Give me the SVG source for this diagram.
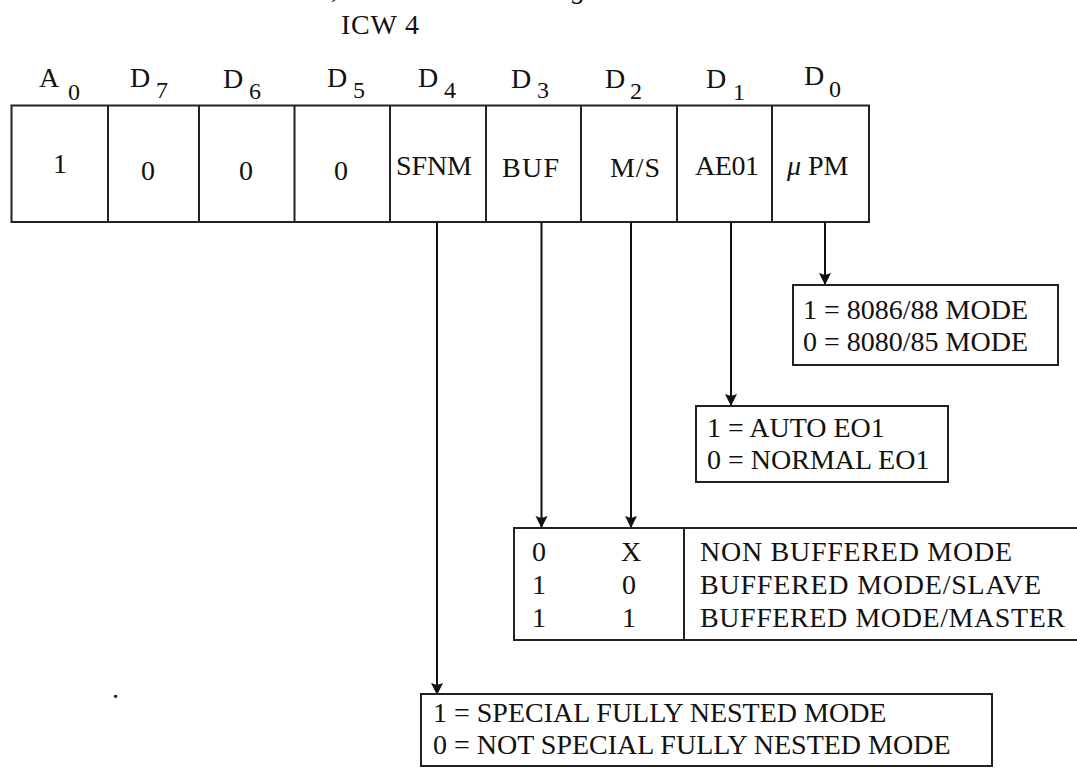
<svg xmlns="http://www.w3.org/2000/svg" width="1077" height="769" viewBox="0 0 1077 769">
<style>
  .t{font-family:"Liberation Serif","Times New Roman",serif;font-size:28px;fill:#111}
  .sub{font-family:"Liberation Serif","Times New Roman",serif;font-size:24px;fill:#111}
  .box{fill:#fff;stroke:#222;stroke-width:2}
  .ln{stroke:#222;stroke-width:2;fill:none}
  .con{stroke:#111;stroke-width:2;fill:none;marker-end:url(#ah)}
</style>
<defs>
  <marker id="ah" markerUnits="userSpaceOnUse" markerWidth="12" markerHeight="14" refX="11" refY="6" orient="auto">
    <path d="M0,0 L12,6 L0,12 L2,6 z" fill="#111"/>
  </marker>
</defs>
<rect width="1077" height="769" fill="#fff"/>

<g id="fragments">
  <text class="t" x="331" y="-2" font-style="italic">,</text>
  <text class="t" x="572" y="-2" font-style="italic">g</text>
  <text class="t" x="112" y="698">.</text>
</g>

<g id="title"><text class="t" x="341" y="34" textLength="78">ICW 4</text></g>

<g id="bit-labels">
  <text class="t" x="39" y="87">A</text><text class="sub" x="68" y="100">0</text>
  <text class="t" x="130" y="87">D</text><text class="sub" x="156" y="98">7</text>
  <text class="t" x="223" y="88">D</text><text class="sub" x="249" y="99">6</text>
  <text class="t" x="327" y="87">D</text><text class="sub" x="353" y="98">5</text>
  <text class="t" x="418" y="87">D</text><text class="sub" x="444" y="98">4</text>
  <text class="t" x="511" y="88">D</text><text class="sub" x="537" y="98">3</text>
  <text class="t" x="605" y="88">D</text><text class="sub" x="630" y="99">2</text>
  <text class="t" x="706" y="88">D</text><text class="sub" x="733" y="100">1</text>
  <text class="t" x="804" y="85">D</text><text class="sub" x="829" y="97">0</text>
</g>

<g id="register">
  <rect class="box" x="11.5" y="105.5" width="857.5" height="116.5"/>
  <path class="ln" d="M108,105.5V222 M199,105.5V222 M294.5,105.5V222 M390,105.5V222 M486,105.5V222 M581,105.5V222 M677,105.5V222 M772,105.5V222"/>
  <text class="t" x="53" y="173">1</text>
  <text class="t" x="141" y="180">0</text>
  <text class="t" x="239" y="180">0</text>
  <text class="t" x="334" y="180">0</text>
  <text class="t" x="396" y="175" textLength="76">SFNM</text>
  <text class="t" x="502" y="177" textLength="57">BUF</text>
  <text class="t" x="610" y="177" textLength="50">M/S</text>
  <text class="t" x="695" y="175" textLength="64">AE01</text>
  <text class="t" x="787" y="175"><tspan font-style="italic">μ</tspan><tspan x="808">PM</tspan></text>
</g>

<g id="connectors">
  <path class="con" d="M437,222V694"/>
  <path class="con" d="M541.5,222V527"/>
  <path class="con" d="M631,222V527"/>
  <path class="con" d="M731,222V405"/>
  <path class="con" d="M825,222V284"/>
</g>

<g id="box-upm">
  <rect class="box" x="793" y="285" width="265" height="80"/>
  <text class="t" x="803" y="319">1 = 8086/88 MODE</text>
  <text class="t" x="803" y="351">0 = 8080/85 MODE</text>
</g>

<g id="box-aeoi">
  <rect class="box" x="696" y="406" width="252" height="76"/>
  <text class="t" x="707" y="437">1 = AUTO EO1</text>
  <text class="t" x="707" y="469">0 = NORMAL EO1</text>
</g>

<g id="box-buf">
  <rect class="box" x="514" y="528" width="570" height="112"/>
  <path class="ln" d="M684,528V640"/>
  <text class="t" x="532" y="561">0</text><text class="t" x="621" y="561">X</text>
  <text class="t" x="532" y="594">1</text><text class="t" x="622" y="594">0</text>
  <text class="t" x="532" y="627">1</text><text class="t" x="622" y="627">1</text>
  <text class="t" x="700" y="561" textLength="312">NON BUFFERED MODE</text>
  <text class="t" x="700" y="594" textLength="341">BUFFERED MODE/SLAVE</text>
  <text class="t" x="700" y="627" textLength="365">BUFFERED MODE/MASTER</text>
</g>

<g id="box-sfnm">
  <rect class="box" x="421" y="694" width="571" height="72"/>
  <text class="t" x="433" y="722">1 = SPECIAL FULLY NESTED MODE</text>
  <text class="t" x="433" y="754">0 = NOT SPECIAL FULLY NESTED MODE</text>
</g>
</svg>
